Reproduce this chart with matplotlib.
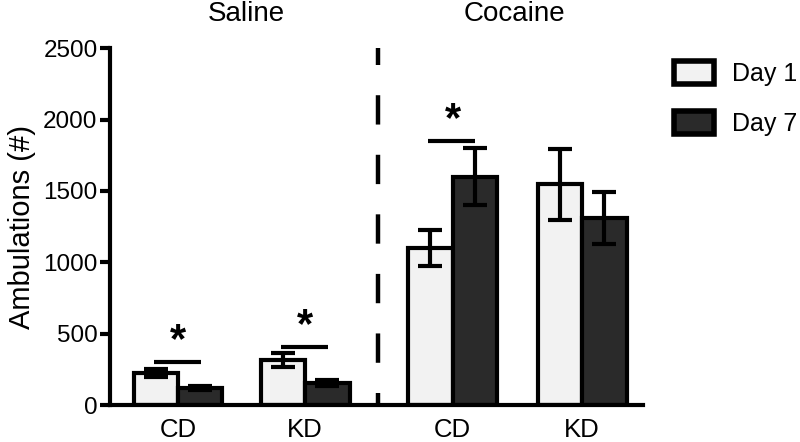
import matplotlib
matplotlib.use("Agg")
import matplotlib.pyplot as plt
from matplotlib.patches import Patch
import numpy as np

plt.rcParams['font.family'] = ['Liberation Sans', 'DejaVu Sans']

groups = ["CD", "KD", "CD", "KD"]
conditions = ["Saline", "Cocaine"]
day1_mean = [224, 315, 1100, 1545]
day1_sem = [30, 48, 128, 250]
day7_mean = [119, 154, 1600, 1310]
day7_sem = [15, 18, 198, 182]
series_names = ["Day 1", "Day 7"]
sig_heights = [301, 406, 1849]

positions = np.array([0.0, 1.0, 2.16, 3.18])
w = 0.35
c1, c7 = "#f2f2f2", "#2a2a2a"

fig = plt.figure(figsize=(8, 4.42), dpi=100)
ax = fig.add_axes([0.1375, 0.0837, 0.804 - 0.1375, 0.891 - 0.0837])

lw = 3.0
ax.bar(positions - w/2, day1_mean, w, color=c1, edgecolor="black", linewidth=lw, zorder=2)
ax.bar(positions + w/2, day7_mean, w, color=c7, edgecolor="black", linewidth=lw, zorder=2)
ax.errorbar(positions - w/2, day1_mean, yerr=day1_sem, fmt="none", ecolor="black",
            elinewidth=lw, capsize=8.5, capthick=lw, zorder=3)
ax.errorbar(positions + w/2, day7_mean, yerr=day7_sem, fmt="none", ecolor="black",
            elinewidth=lw, capsize=8.5, capthick=lw, zorder=3)

# significance bars
for i, h in enumerate(sig_heights):
    x0 = positions[i] - 0.19
    x1 = positions[i] + 0.18
    ax.plot([x0, x1], [h, h], color="black", lw=lw, solid_capstyle="butt", clip_on=False)
    ax.text(positions[i], h + 10, "*", ha="center", va="bottom", fontsize=30,
            fontweight="bold", clip_on=False)

ax.set_xlim(-0.535, 3.66)
ax.set_ylim(0, 2500)
ax.set_yticks([0, 500, 1000, 1500, 2000, 2500])
ax.set_xticks(positions)
ax.set_xticklabels(groups, fontsize=18.5)
ax.tick_params(axis="x", length=0, pad=9)
ax.tick_params(axis="y", length=7, width=lw, labelsize=17.5, pad=2)
ax.set_ylabel("Ambulations (#)", fontsize=21, labelpad=5)

for s in ["top", "right"]:
    ax.spines[s].set_visible(False)
for s in ["left", "bottom"]:
    ax.spines[s].set_linewidth(lw)

# divider
ax.plot([1.575, 1.575], [0, 2500], color="black", lw=3.2, solid_capstyle="butt",
        dash_capstyle="butt", linestyle=(3.9, (6.6, 6.8)), clip_on=False)

# condition titles
ax.text(0.535, 2740, conditions[0], ha="center", va="center", fontsize=20, clip_on=False)
ax.text(2.65, 2740, conditions[1], ha="center", va="center", fontsize=20, clip_on=False)

handles = [Patch(facecolor=c1, edgecolor="black", linewidth=4),
           Patch(facecolor=c7, edgecolor="black", linewidth=4)]
fig.legend(handles, series_names, loc="upper left", bbox_to_anchor=(0.842, 0.862),
           frameon=False, fontsize=18, handlelength=1.6, handleheight=1.05,
           labelspacing=1.0, handletextpad=0.75, borderaxespad=0, borderpad=0)

fig.savefig("out.png", dpi=100)
